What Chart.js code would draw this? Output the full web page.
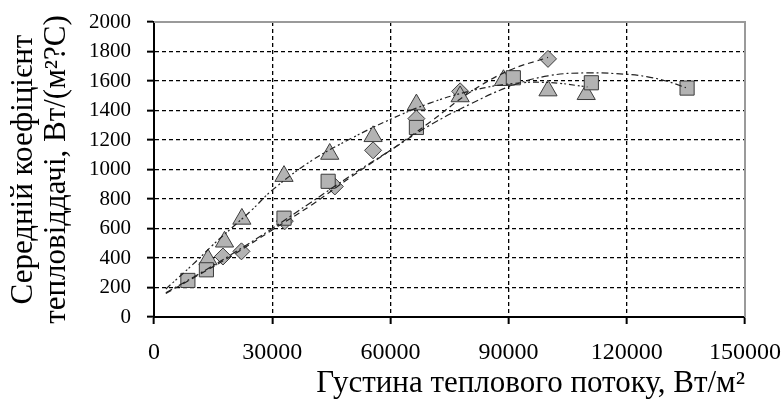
<!DOCTYPE html>
<html>
<head>
<meta charset="utf-8">
<script src="https://cdn.jsdelivr.net/npm/chart.js@4.4.1/dist/chart.umd.min.js"></script>
<style>
  html, body { margin: 0; padding: 0; background: #fff; }
  #wrap { width: 782px; height: 410px; }
</style>
</head>
<body>
<div id="wrap"><canvas id="heatChart" width="782" height="410"></canvas></div>
<script>
// Measured points (heat flux, W/m2 -> mean heat transfer coefficient)
const squareX = [8600, 13300, 33000, 44200, 66600, 91200, 111000, 135300];
const squareY = [248, 320, 670, 920, 1285, 1622, 1588, 1552];

const triangleX = [13700, 17900, 22300, 33000, 44600, 55600, 66600, 77700, 88700, 100000, 109700];
const triangleY = [390, 510, 665, 955, 1105, 1225, 1440, 1495, 1605, 1535, 1510];

const diamondX = [17500, 22200, 33200, 45900, 55600, 66600, 77700, 100000];
const diamondY = [410, 445, 650, 885, 1130, 1345, 1530, 1750];

// Trend lines
const squareTrendX = [3000, 10000, 20000, 30000, 40000, 50000, 60000, 70000, 80000, 90000, 100000, 110000, 120000, 125000, 130000, 135000];
const squareTrendY = [165, 270, 430, 600, 780, 960, 1130, 1300, 1440, 1560, 1635, 1655, 1645, 1630, 1600, 1555];

const triangleTrendX = [3000, 10000, 15000, 20000, 25000, 30000, 40000, 50000, 60000, 70000, 80000, 90000, 100000, 110000];
const triangleTrendY = [190, 360, 490, 610, 730, 860, 1060, 1210, 1340, 1450, 1530, 1580, 1590, 1560];

const diamondTrendX = [3000, 10000, 20000, 30000, 40000, 50000, 60000, 70000, 80000, 90000, 100000];
const diamondTrendY = [160, 265, 420, 590, 760, 950, 1130, 1320, 1520, 1670, 1760];

const xTicks = [0, 30000, 60000, 90000, 120000, 150000];
const yTicks = [0, 200, 400, 600, 800, 1000, 1200, 1400, 1600, 1800, 2000];

const xTitle = 'Густина теплового потоку, Вт/м²';
const yTitle = ['Середній коефіцієнт', 'тепловіддачі, Вт/(м²?С)'];

const toPoints = (xs, ys) => xs.map((x, i) => ({ x: x, y: ys[i] }));

const markerFill = '#b3b3b3';
const markerEdge = '#3c3c3c';
const serif = '"Liberation Serif", "DejaVu Serif", serif';

function trend(xs, ys, dash) {
    return {
        data: toPoints(xs, ys),
        showLine: true,
        borderColor: '#222',
        borderWidth: 1.2,
        borderDash: dash,
        pointRadius: 0,
        tension: 0.4,
        fill: false
    };
}

function markers(xs, ys, style, r) {
    return {
        data: toPoints(xs, ys),
        pointStyle: style,
        pointRadius: r,
        pointBackgroundColor: markerFill,
        pointBorderColor: markerEdge,
        pointBorderWidth: 1,
        showLine: false
    };
}

// top and right frame lines in light grey
const framePlugin = {
    id: 'frame',
    beforeDatasetsDraw(chart) {
        const { ctx, chartArea } = chart;
        ctx.save();
        ctx.strokeStyle = '#9a9a9a';
        ctx.lineWidth = 2;
        ctx.beginPath();
        ctx.moveTo(chartArea.left, chartArea.top);
        ctx.lineTo(chartArea.right, chartArea.top);
        ctx.lineTo(chartArea.right, chartArea.bottom);
        ctx.stroke();
        ctx.restore();
    }
};

const plainNumber = (v) => String(v);

new Chart(document.getElementById('heatChart'), {
    type: 'scatter',
    data: {
        datasets: [
            trend(squareTrendX, squareTrendY, [7, 3, 2, 3]),
            trend(triangleTrendX, triangleTrendY, [6, 3, 2, 2, 2, 3]),
            trend(diamondTrendX, diamondTrendY, [6, 4]),
            markers(squareX, squareY, 'rect', 10),
            markers(triangleX, triangleY, 'triangle', 10.5),
            markers(diamondX, diamondY, 'rectRot', 8.5)
        ]
    },
    options: {
        responsive: false,
        animation: false,
        layout: { padding: { top: 22, right: 37, left: 0, bottom: 0 } },
        plugins: {
            legend: { display: false },
            tooltip: { enabled: false }
        },
        scales: {
            x: {
                type: 'linear',
                min: xTicks[0],
                max: xTicks[xTicks.length - 1],
                afterBuildTicks: (scale) => { scale.ticks = xTicks.map(v => ({ value: v })); },
                afterFit: (scale) => {
                    scale.height = 93;
                    scale.paddingLeft = 0;
                    scale.paddingRight = 0;
                },
                border: { color: '#000', width: 2, dash: [4, 3] },
                grid: {
                    color: '#000',
                    lineWidth: 1.3,
                    tickBorderDash: [],
                    tickColor: '#000',
                    tickLength: 7,
                    tickWidth: 2
                },
                ticks: {
                    color: '#000',
                    padding: 14,
                    maxRotation: 0,
                    callback: plainNumber,
                    font: { family: serif, size: 24 }
                },
                title: {
                    display: true,
                    text: xTitle,
                    align: 'end',
                    color: '#000',
                    padding: { top: 0, bottom: 8 },
                    font: { family: serif, size: 31 }
                }
            },
            y: {
                type: 'linear',
                min: yTicks[0],
                max: yTicks[yTicks.length - 1],
                afterBuildTicks: (scale) => { scale.ticks = yTicks.map(v => ({ value: v })); },
                afterFit: (scale) => {
                    scale.width = 154;
                    scale.paddingTop = 0;
                    scale.paddingBottom = 0;
                },
                border: { color: '#000', width: 2, dash: [4, 3] },
                grid: {
                    color: '#000',
                    lineWidth: 1.3,
                    tickBorderDash: [],
                    tickColor: '#000',
                    tickLength: 7,
                    tickWidth: 2
                },
                ticks: {
                    color: '#000',
                    padding: 16,
                    callback: plainNumber,
                    font: { family: serif, size: 21 }
                },
                title: {
                    display: true,
                    text: yTitle,
                    color: '#000',
                    padding: { top: 7, bottom: 0 },
                    font: { family: serif, size: 31, lineHeight: 1.07 }
                }
            }
        }
    },
    plugins: [framePlugin]
});
</script>
</body>
</html>
